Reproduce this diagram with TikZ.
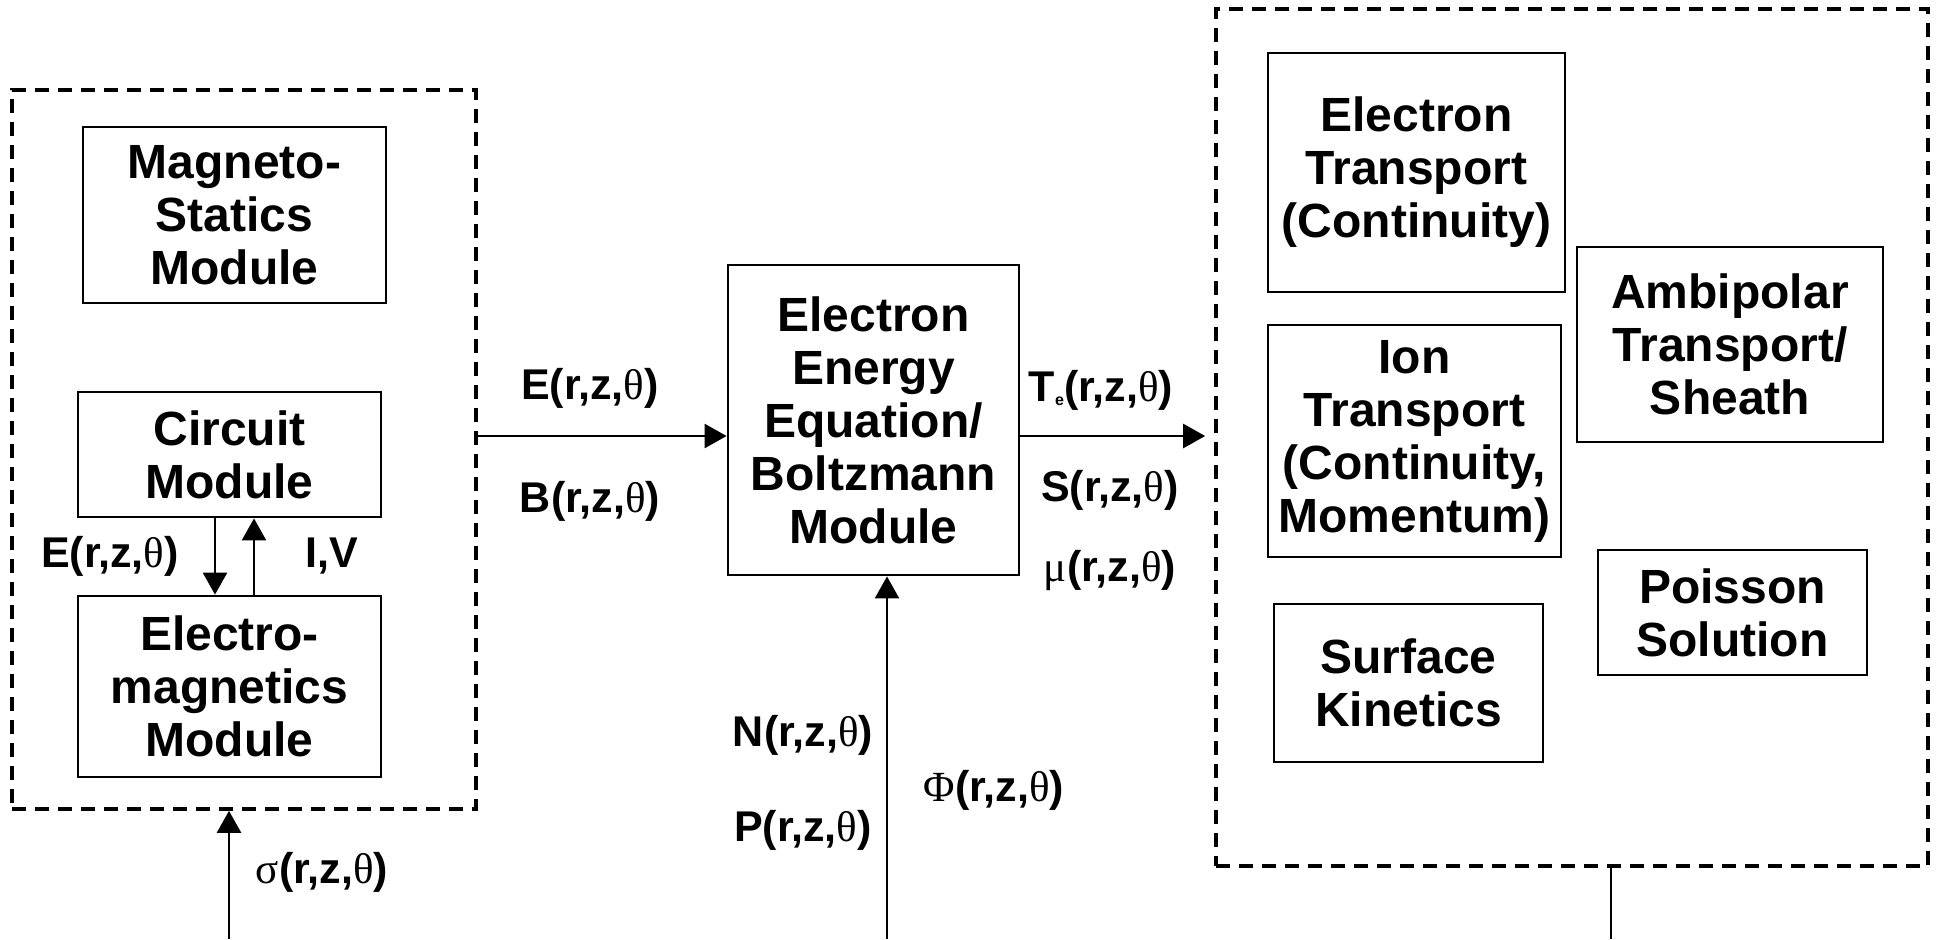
\documentclass[tikz,border=0pt]{standalone}
\usepackage{fontspec}
\setmainfont{Liberation Sans}
\newfontfamily\gkfont{Liberation Serif}
\usetikzlibrary{arrows.meta}
\newcommand\grk[1]{{\gkfont\mdseries #1}}
\newcommand\gth{\grk{θ}}
\newcommand\tesub{{\fontsize{8}{8}\selectfont\raisebox{-2pt}{e}}}
\begin{document}
\begin{tikzpicture}[x=0.5pt,y=-0.5pt,
  box/.style={draw, line width=1.4pt, align=center, inner sep=0pt,
    font=\bfseries\fontsize{24}{26.5}\selectfont},
  grp/.style={draw, line width=1.8pt, dash pattern=on 7pt off 4.5pt, inner sep=0pt},
  lbl/.style={font=\bfseries\fontsize{21.5}{23}\selectfont, inner sep=0pt},
  arr/.style={line width=1.2pt, -{Triangle[length=11pt,width=12pt]}},
  ln/.style={line width=1.2pt}]
\useasboundingbox (0,0) rectangle (1940,939);

% left group
\node[grp, minimum width=232pt, minimum height=359.5pt] (leftgrp) at (244,449.5) {};
\node[box, minimum width=151.5pt, minimum height=88pt] (magneto) at (234.5,215) {Magneto-\\Statics\\Module};
\node[box, minimum width=151.5pt, minimum height=62.5pt] (circuit) at (229.5,454.5) {Circuit\\Module};
\node[box, minimum width=151.5pt, minimum height=90.5pt] (em) at (229.5,686.5) {Electro-\\magnetics\\Module};

% central box
\node[box, minimum width=145.5pt, minimum height=155pt] (cent) at (873.5,420) {Electron\\Energy\\Equation/\\Boltzmann\\Module};

% right group
\node[grp, minimum width=356pt, minimum height=428.5pt] (rightgrp) at (1572,437.5) {};
\node[box, minimum width=148.5pt, minimum height=119.5pt] (etrans) at (1416.5,172.5) {Electron\\Transport\\(Continuity)};
\node[box, minimum width=146.5pt, minimum height=116pt] (itrans) at (1414.5,441) {Ion\\Transport\\(Continuity,\\Momentum)};
\node[box, minimum width=153pt, minimum height=97.5pt] (ambi) at (1730,344.5) {Ambipolar\\Transport/\\Sheath};
\node[box, minimum width=134.5pt, minimum height=62.5pt] (poisson) at (1732.5,612.5) {Poisson\\Solution};
\node[box, minimum width=134.5pt, minimum height=79pt] (surface) at (1408.5,683) {Surface\\Kinetics};

% helper coordinates
\coordinate (rowA) at (0,436);
\coordinate (xdn) at (215,0);
\coordinate (xup) at (254,0);
\coordinate (sigB) at (229,939);
\coordinate (npB) at (887,939);
\coordinate (rB) at (1611,939);

% connectors
\draw[arr] (rowA -| leftgrp.east) -- (rowA -| cent.west);
\draw[arr, shorten >=4.5pt] (rowA -| cent.east) -- (rowA -| rightgrp.west);
\draw[arr] (xdn |- circuit.south) -- (xdn |- em.north);
\draw[arr] (xup |- em.north) -- (xup |- circuit.south);
\draw[arr] (sigB) -- (sigB |- leftgrp.south);
\draw[arr] (npB) -- (npB |- cent.south);
\draw[ln] (rB |- rightgrp.south) -- (rB);

% labels
\node[lbl] (lE) at (110,556) {E(r,z,\gth)};
\node[lbl] (lIV) at (332,556) {I,V};
\node[lbl] (lsig) at (322,872) {\grk{σ}(r,z,\gth)};
\node[lbl] (lE2) at (590,388) {E(r,z,\gth)};
\node[lbl] (lB) at (590,501) {B(r,z,\gth)};
\node[lbl] (lT) at (1101,390) {T\tesub(r,z,\gth)};
\node[lbl] (lS) at (1110,490) {S(r,z,\gth)};
\node[lbl] (lmu) at (1110,571) {\grk{μ}(r,z,\gth)};
\node[lbl] (lN) at (803,735) {N(r,z,\gth)};
\node[lbl] (lP) at (803,830) {P(r,z,\gth)};
\node[lbl] (lPhi) at (994,790) {\grk{Φ}(r,z,\gth)};
\end{tikzpicture}
\end{document}
